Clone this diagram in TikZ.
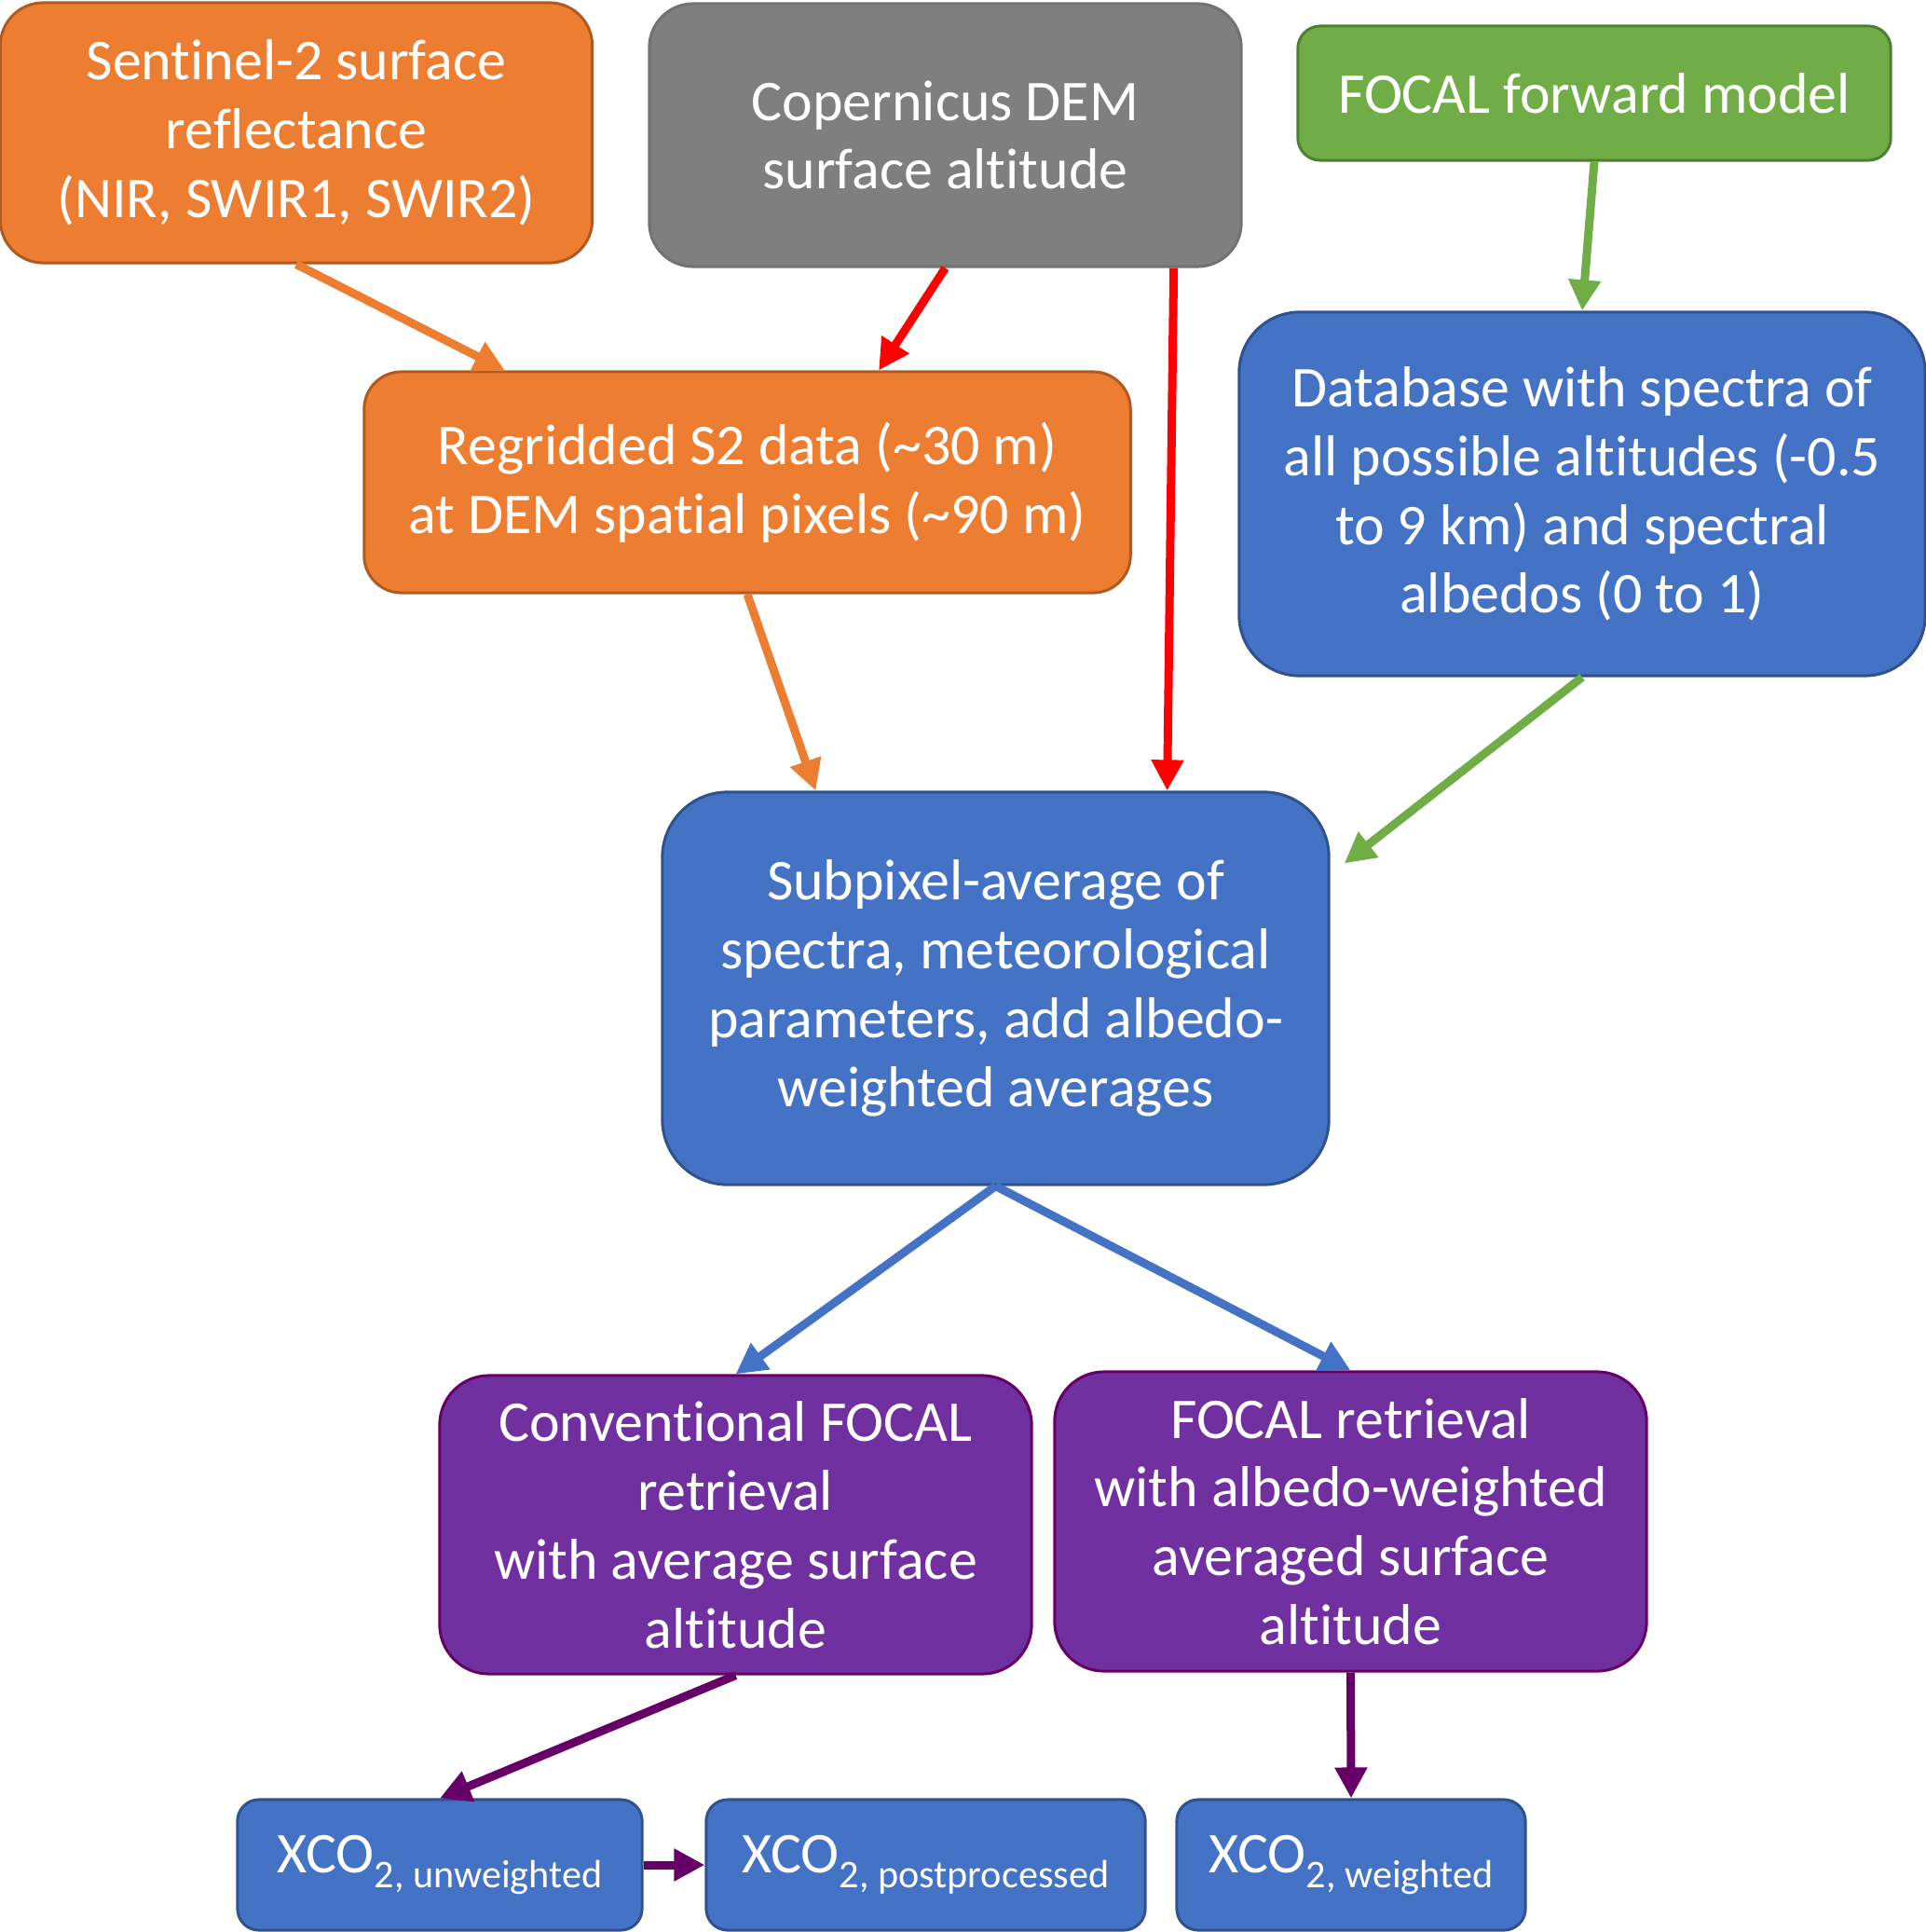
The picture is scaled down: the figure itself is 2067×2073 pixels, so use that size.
\documentclass[tikz,border=0pt]{standalone}
\usepackage{fontspec}
\setmainfont[RawFeature=-liga]{Carlito}
\usetikzlibrary{arrows.meta}
\definecolor{orangefill}{HTML}{ED7D31}
\definecolor{orangeline}{HTML}{AE5A21}
\definecolor{grayfill}{HTML}{7F7F7F}
\definecolor{greenfill}{HTML}{70AD47}
\definecolor{greenline}{HTML}{507E32}
\definecolor{bluefill}{HTML}{4472C4}
\definecolor{blueline}{HTML}{2F528F}
\definecolor{purplefill}{HTML}{7030A0}
\definecolor{purpleline}{HTML}{660066}
\definecolor{arrred}{HTML}{FF0000}
\newcommand{\lowsub}[1]{\raisebox{-0.16cm}{\fontsize{12}{14}\selectfont #1}}

\begin{document}
\begin{tikzpicture}[x=0.01cm, y=-0.01cm,
  box/.style={rectangle, draw, align=center, text=white, inner sep=0pt,
    line width=0.03cm, font=\fontsize{17.6}{21}\selectfont},
  orangebox/.style={box, fill=orangefill, draw=orangeline},
  graybox/.style={box, fill=grayfill, draw=grayfill!90!black},
  greenbox/.style={box, fill=greenfill, draw=greenline},
  bluebox/.style={box, fill=bluefill, draw=blueline},
  purplebox/.style={box, fill=purplefill, draw=purpleline},
  arr/.style={line width=0.09cm, -{Triangle[length=0.33cm, width=0.33cm]}}]
  \useasboundingbox (0,0) rectangle (2067,2073);

  % input data
  \node[orangebox, minimum width=6.35cm, minimum height=2.79cm, rounded corners=0.46cm]
    (sentinel) at (318,142.5) {Sentinel-2 surface\\reflectance\\(NIR, SWIR1, SWIR2)};
  \node[graybox, minimum width=6.35cm, minimum height=2.82cm, rounded corners=0.47cm]
    (dem) at (1014.5,145) {Copernicus DEM\\surface altitude};
  \node[greenbox, minimum width=6.36cm, minimum height=1.44cm, rounded corners=0.24cm]
    (fwd) at (1711,100) {FOCAL forward model};

  % intermediate products
  \node[bluebox, minimum width=7.36cm, minimum height=3.90cm, rounded corners=0.65cm]
    (dbase) at (1698,530) {Database with spectra of\\all possible altitudes (-0.5\\to 9 km) and spectral\\albedos (0 to 1)};
  \node[orangebox, minimum width=8.22cm, minimum height=2.37cm, rounded corners=0.40cm]
    (regrid) at (802,517.5) {Regridded S2 data (\textasciitilde30 m)\\at DEM spatial pixels (\textasciitilde90 m)};
  \node[bluebox, minimum width=7.15cm, minimum height=4.21cm, rounded corners=0.70cm]
    (subpix) at (1068.5,1060.5) {Subpixel-average of\\spectra, meteorological\\parameters, add albedo-\\weighted averages};

  % retrievals
  \node[purplebox, minimum width=6.35cm, minimum height=3.20cm, rounded corners=0.53cm]
    (conv) at (789.5,1636) {Conventional FOCAL\\retrieval\\with average surface\\altitude};
  \node[purplebox, minimum width=6.35cm, minimum height=3.21cm, rounded corners=0.53cm]
    (wret) at (1449.5,1632.5) {FOCAL retrieval\\with albedo-weighted\\averaged surface\\altitude};

  % results
  \node[bluebox, minimum width=4.34cm, minimum height=1.40cm, rounded corners=0.23cm]
    (xunw) at (472,2001) {XCO\lowsub{2, unweighted}};
  \node[bluebox, minimum width=4.71cm, minimum height=1.40cm, rounded corners=0.23cm]
    (xpost) at (993.5,2001) {XCO\lowsub{2, postprocessed}};
  \node[bluebox, minimum width=3.74cm, minimum height=1.40cm, rounded corners=0.23cm]
    (xw) at (1450,2001) {XCO\lowsub{2, weighted}};

  % connectors
  \draw[arr, orangefill] (sentinel.south) -- ([xshift=-2.6cm]regrid.north);
  \draw[arr, arrred] (dem.south) -- ([xshift=1.41cm]regrid.north);
  \draw[arr, arrred] ([xshift=2.45cm]dem.south) -- ([xshift=1.84cm]subpix.north);
  \draw[arr, greenfill] (fwd.south) -- (dbase.north);
  \draw[arr, orangefill] (regrid.south) -- ([xshift=-1.93cm]subpix.north);
  \draw[arr, greenfill] (dbase.south) -- ([xshift=0.15cm, yshift=1.34cm]subpix.east);
  \draw[arr, bluefill] (subpix.south) -- (conv.north);
  \draw[arr, bluefill] (subpix.south) -- (wret.north);
  \draw[arr, purpleline] (conv.south) -- (xunw.north);
  \draw[arr, purpleline] (wret.south) -- (xw.north);
  \draw[arr, purpleline] (xunw.east) -- (xpost.west);
\end{tikzpicture}
\end{document}
